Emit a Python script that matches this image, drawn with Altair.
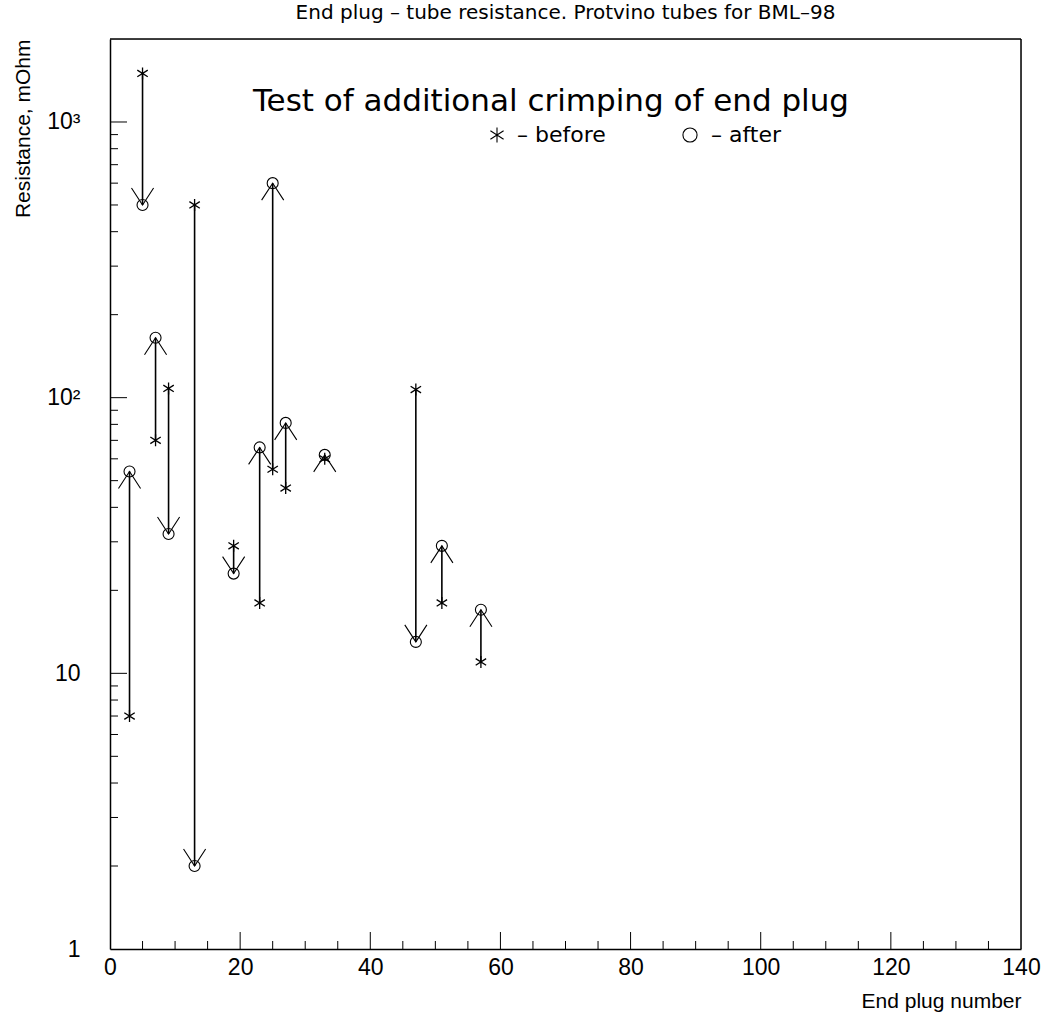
import altair as alt
import pandas as pd

# ---- data ----
plug = [3, 5, 7, 9, 13, 19, 23, 25, 27, 33, 47, 51, 57]
before = [7, 1500, 70, 108, 500, 29, 18, 55, 47, 60, 107, 18, 11]
after = [54, 500, 165, 32, 2, 23, 66, 600, 81, 62, 13, 29, 17]

x_label_values = [0, 20, 40, 60, 80, 100, 120, 140]
x_major_ticks = [20, 40, 60, 80, 100, 120]
x_minor_ticks = [5, 10, 15, 25, 30, 35, 45, 50, 55, 65, 70, 75, 85, 90, 95,
                 105, 110, 115, 125, 130, 135]
y_label_values = [1, 10, 100, 1000]
y_label_texts = ["1", "10", "10²", "10³"]
y_major_ticks = [10, 100, 1000]
y_minor_ticks = [2, 3, 4, 5, 6, 7, 8, 9,
                 20, 30, 40, 50, 60, 70, 80, 90,
                 200, 300, 400, 500, 600, 700, 800, 900]

title_text = "End plug – tube resistance. Protvino tubes for BML–98"
note_text = "Test of additional crimping of end plug"
legend_before = "–  before"
legend_after = "–  after"
x_title = "End plug number"
y_title = "Resistance, mOhm"

# ---- layout / style ----
W, H = 911, 910
FONT = "DejaVu Sans"
STAR = "M0,-1L0,1M-0.87,-0.55L0.87,0.55M-0.87,0.55L0.87,-0.55"
UP = "M-0.65,1L0,0L0.65,1"
DOWN = "M-0.65,-1L0,0L0.65,-1"

df = pd.DataFrame({"plug": plug, "before": before, "after": after})
df["dir"] = ["up" if a > b else "down" for a, b in zip(after, before)]

xs = alt.Scale(domain=[0, 140], nice=False, zero=False)
ys = alt.Scale(type="log", domain=[1, 2000], nice=False)

label_expr = " : ".join(
    f"datum.value == {v} ? '{t}'" for v, t in zip(y_label_values, y_label_texts)
) + " : ''"

x_axis = alt.Axis(values=x_label_values, tickSize=0, domain=True, domainColor="black",
                  domainWidth=1.5, grid=False,
                  labelFontSize=23, labelPadding=7, labelFlush=False,
                  labelColor="black", title=x_title, titleFontSize=21,
                  titleFontWeight="normal", titleColor="black",
                  titleX=W, titleY=52, titleAlign="right", titleBaseline="middle")
y_axis = alt.Axis(values=y_label_values, labelExpr=label_expr, tickSize=0,
                  domain=True, domainColor="black", domainWidth=1.5, grid=False,
                  labelFontSize=23, labelPadding=30,
                  labelColor="black", title=y_title, titleFontSize=21,
                  titleFontWeight="normal", titleColor="black",
                  titleX=-87, titleY=0, titleAlign="right", titleAngle=270,
                  titleBaseline="middle")

base = alt.Chart(df)

arrows = base.mark_rule(color="black", strokeWidth=1.6).encode(
    x=alt.X("plug:Q", scale=xs, axis=x_axis),
    y=alt.Y("before:Q", scale=ys, axis=y_axis),
    y2="after:Q",
)
heads = base.mark_point(filled=False, color="black", size=1156,
                        strokeWidth=1.1, opacity=1).encode(
    x=alt.X("plug:Q", scale=xs),
    y=alt.Y("after:Q", scale=ys),
    shape=alt.Shape("dir:N", scale=alt.Scale(domain=["up", "down"], range=[UP, DOWN]),
                    legend=None),
)
stars = base.mark_point(shape=STAR, filled=False, color="black", size=144,
                        strokeWidth=1.3, opacity=1).encode(
    x=alt.X("plug:Q", scale=xs),
    y=alt.Y("before:Q", scale=ys),
)
circles = base.mark_point(shape="circle", filled=False, color="black", size=121,
                          strokeWidth=1.1, opacity=1).encode(
    x=alt.X("plug:Q", scale=xs),
    y=alt.Y("after:Q", scale=ys),
)

# inside ticks
def xticks(vals, length):
    return alt.Chart(pd.DataFrame({"v": vals})).mark_rule(color="black", strokeWidth=1).encode(
        x=alt.X("v:Q", scale=xs), y=alt.value(H), y2=alt.value(H - length))

def yticks(vals, length):
    return alt.Chart(pd.DataFrame({"v": vals})).mark_rule(color="black", strokeWidth=1).encode(
        y=alt.Y("v:Q", scale=ys), x=alt.value(0), x2=alt.value(length))

ticks = [xticks(x_major_ticks, 17), xticks(x_minor_ticks, 8),
         yticks(y_major_ticks, 17), yticks(y_minor_ticks, 8)]

one = pd.DataFrame({"d": [0]})

# frame (top and right edges)
frame_top = alt.Chart(one).mark_rule(color="black", strokeWidth=1.5).encode(
    x=alt.value(0), x2=alt.value(W), y=alt.value(0))
frame_right = alt.Chart(one).mark_rule(color="black", strokeWidth=1.5).encode(
    x=alt.value(W), y=alt.value(0), y2=alt.value(H))

def txt(text, x, y, size, align="center"):
    return alt.Chart(one).mark_text(text=text, font=FONT, fontSize=size, color="black",
                                    align=align, baseline="middle").encode(
        x=alt.value(x), y=alt.value(y))

texts = [
    txt(title_text, W / 2, -26, 20),
    txt(note_text, 441, 63, 31),
    txt(legend_before, 407, 96, 22, "left"),
    txt(legend_after, 601, 96, 22, "left"),
]
leg_star = alt.Chart(one).mark_point(shape=STAR, filled=False, color="black", size=230,
                                     strokeWidth=1.1, opacity=1).encode(
    x=alt.value(387), y=alt.value(96))
leg_circ = alt.Chart(one).mark_point(shape="circle", filled=False, color="black", size=200,
                                     strokeWidth=1.1, opacity=1).encode(
    x=alt.value(580), y=alt.value(96))

chart = alt.layer(arrows, heads, stars, circles, *ticks, frame_top, frame_right,
                  *texts, leg_star, leg_circ).properties(
    width=W, height=H,
    autosize=alt.AutoSizeParams(type="none"),
    padding={"left": 110, "top": 39, "right": 31, "bottom": 73},
).configure_view(stroke="black", strokeWidth=1.5).configure_axis(
    labelFont=FONT, titleFont=FONT
).configure(background="white")

chart.save("out.html", embed_options={"renderer": "svg", "actions": False})
